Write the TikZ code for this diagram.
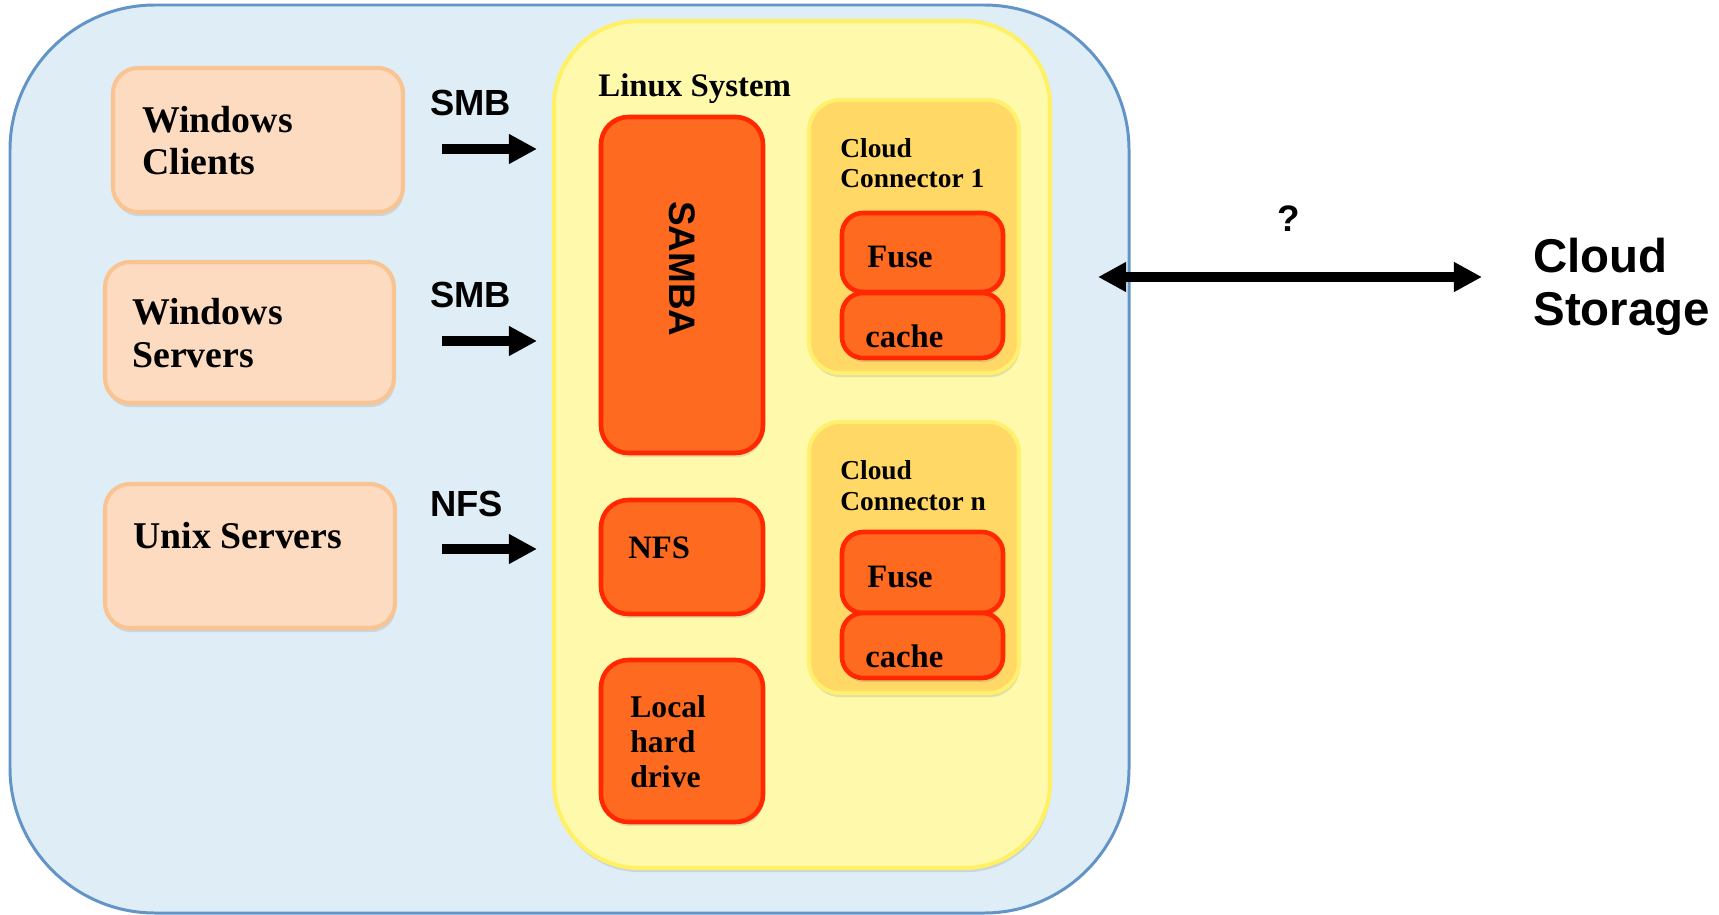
\documentclass[tikz,border=0pt]{standalone}
\usepackage{fontspec}
\setmainfont{Liberation Serif}
\setsansfont{Liberation Sans}
\usepackage{tikz}
\usepackage{xcolor}
\usetikzlibrary{arrows.meta,positioning,fit,shadows}

\definecolor{skyfill}{RGB}{223,238,246}
\definecolor{skyline}{RGB}{98,148,200}
\definecolor{lemonfill}{RGB}{255,249,172}
\definecolor{lemonline}{RGB}{255,240,100}
\definecolor{peachfill}{RGB}{252,219,192}
\definecolor{peachline}{RGB}{249,195,146}
\definecolor{orangefill}{RGB}{255,106,33}
\definecolor{orangeline}{RGB}{255,40,0}
\definecolor{goldfill}{RGB}{255,216,102}
\definecolor{goldline}{RGB}{255,240,110}

\begin{document}
\begin{tikzpicture}[
          x=0.02cm, y=-0.02cm,
          every node/.style={inner sep=0pt},
          boxshadow/.style={drop shadow={opacity=0.22, shadow xshift=0.6pt, shadow yshift=-2.4pt}},
          network/.style={draw=skyline, fill=skyfill, line width=1.7pt, rounded corners=2.9cm},
          linuxbox/.style={draw=lemonline, fill=lemonfill, line width=2.3pt, rounded corners=1.7cm, boxshadow},
          hostbox/.style={draw=peachline, fill=peachfill, line width=2.3pt, rounded corners=0.5cm, boxshadow},
          servicebox/.style={draw=orangeline, fill=orangefill, line width=2.6pt, rounded corners=0.55cm, boxshadow},
          layerbox/.style={draw=orangeline, fill=orangefill, line width=2.6pt, rounded corners=0.42cm, boxshadow},
          connbox/.style={draw=goldline, fill=goldfill, line width=2.3pt, rounded corners=0.62cm, boxshadow},
          hostlabel/.style={anchor=base west, align=left, font=\fontsize{21.5}{24.4}\selectfont\bfseries},
          innerlabel/.style={anchor=base west, align=left, font=\fontsize{18.6}{19.8}\selectfont\bfseries},
          connlabel/.style={anchor=base west, align=left, font=\fontsize{15.6}{17.6}\selectfont\bfseries},
          proto/.style={anchor=base west, font=\sffamily\bfseries\fontsize{20.7}{24}\selectfont},
          flow/.style={line width=5.7pt, -{Triangle[length=16pt, width=16pt]}}
        ]
          \useasboundingbox (0,0) rectangle (1719,915);

          % Outer network and Linux host
          \node[network, fit={(10,5) (1129,913)}] (net) {};
          \node[linuxbox, fit={(554,21) (1050,868)}] (linux) {};
          \node[anchor=base west, font=\fontsize{18.7}{22}\selectfont\bfseries] (linuxlabel) at (598,97) {Linux System};

          % Clients and servers (multi-line labels sit on their last baseline)
          \node[hostbox, fit={(113,68) (403,212)}] (winclients) {};
          \node[hostlabel] (winclientstext) at (142,175) {Windows\\Clients};
          \node[hostbox, fit={(105,262) (394,403)}] (winservers) {};
          \node[hostlabel] (winserverstext) at (132,367) {Windows\\Servers};
          \node[hostbox, fit={(105,484) (395,628)}] (unixservers) {};
          \node[hostlabel] (unixserverstext) at (133,548) {Unix Servers};

          % Protocol arrows
          \node[proto] (smbone) at (430,116) {SMB};
          \node[proto] (smbtwo) at (430,307) {SMB};
          \node[proto] (nfsproto) at (430,516) {NFS};
          \coordinate (smbonestart) at (442,149);
          \coordinate (smboneend) at (537,149);
          \coordinate (smbtwostart) at (442,341);
          \coordinate (smbtwoend) at (537,341);
          \coordinate (nfsstart) at (442,549);
          \coordinate (nfsend) at (537,549);
          \draw[flow] (smbonestart) -- (smboneend);
          \draw[flow] (smbtwostart) -- (smbtwoend);
          \draw[flow] (nfsstart) -- (nfsend);

          % Services inside Linux
          \node[servicebox, fit={(601,117) (763,453)}] (samba) {};
          \node[rotate=-90, font=\sffamily\bfseries\fontsize{21}{25}\selectfont] (sambatext) at (682,269) {SAMBA};
          \node[servicebox, fit={(601,500) (763,614)}] (nfs) {};
          \node[innerlabel] (nfstext) at (628,558) {NFS};
          \node[servicebox, fit={(601,660) (763,822)}] (localdisk) {};
          \node[innerlabel, font=\fontsize{18}{19.8}\selectfont\bfseries] (localdisktext) at (630,787) {Local\\hard\\drive};

          % Cloud connectors
          \node[connbox, fit={(809,100) (1019,373)}] (connone) {};
          \node[connlabel] (connonetext) at (840,188) {Cloud\\Connector 1};
          \node[layerbox, fit={(842,213) (1003,292)}] (fuseone) {};
          \node[innerlabel] (fuseonetext) at (867,268) {Fuse};
          \node[layerbox, fit={(842,293) (1003,358)}] (cacheone) {};
          \node[innerlabel] (cacheonetext) at (865,347) {cache};

          \node[connbox, fit={(809,422) (1019,693)}] (connn) {};
          \node[connlabel] (conntext) at (840,510) {Cloud\\Connector n};
          \node[layerbox, fit={(842,532) (1003,613)}] (fusen) {};
          \node[innerlabel] (fusentext) at (867,587) {Fuse};
          \node[layerbox, fit={(842,613) (1003,678)}] (cachen) {};
          \node[innerlabel] (cachentext) at (865,667) {cache};

          % Link to the cloud
          \coordinate (linkstart) at (1098,277);
          \coordinate (linkend) at (1482,277);
          \draw[line width=5.7pt, {Triangle[length=16pt, width=16pt]}-{Triangle[length=16pt, width=16pt]}] (linkstart) -- (linkend);
          \node[anchor=base, font=\sffamily\bfseries\fontsize{21}{25}\selectfont] (query) at (1289,232) {?};
          \node[anchor=base west, align=left, font=\sffamily\bfseries\fontsize{27}{30}\selectfont] (cloud) at (1533,325) {Cloud\\Storage};

        \end{tikzpicture}
\end{document}
